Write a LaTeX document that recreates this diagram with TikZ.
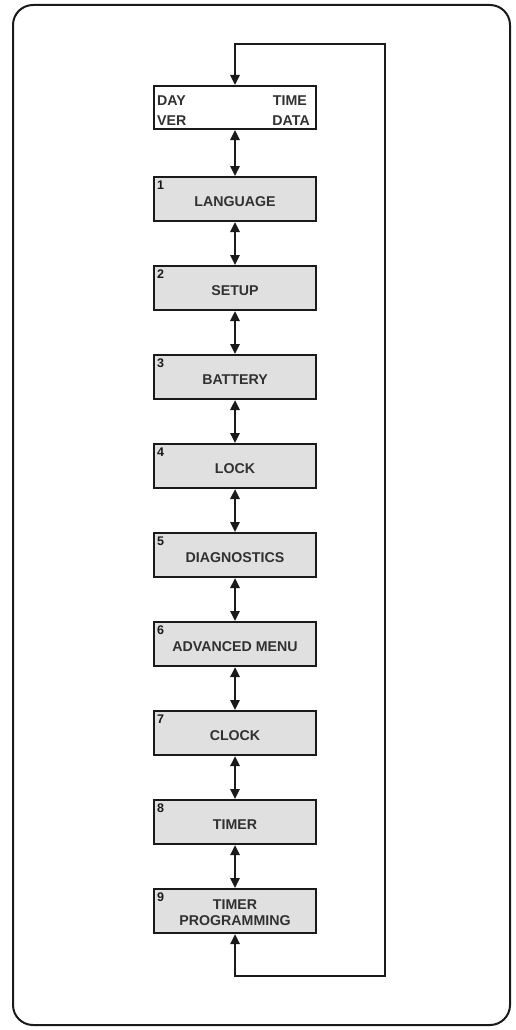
\documentclass[tikz,border=0pt]{standalone}
\usepackage{fontspec}
\setmainfont{Liberation Sans}
\usetikzlibrary{arrows.meta}
\definecolor{boxgray}{HTML}{E0E0E0}
\definecolor{ink}{HTML}{1A1A1A}
\tikzset{
  menubox/.style={draw=ink, line width=2pt, fill=boxgray, minimum width=162pt, minimum height=44pt, inner sep=0pt},
  topbox/.style={draw=ink, line width=2pt, fill=white, minimum width=162pt, minimum height=43pt, inner sep=0pt},
  lbl/.style={font=\bfseries\fontsize{14.2}{15}\selectfont, text=ink!90, inner sep=0pt, align=center},
  num/.style={font=\bfseries\fontsize{12.5}{13}\selectfont, text=ink, inner sep=0pt, anchor=north west},
  link/.style={line width=2.4pt, draw=ink, {Triangle[length=10pt,width=9pt]}-{Triangle[length=10pt,width=9pt]}},
  frame/.style={draw=ink, line width=2pt, rounded corners=20pt}
}
\begin{document}
\begin{tikzpicture}[x=1pt,y=-1pt]
\useasboundingbox (0,0) rectangle (515,1030);
\draw[frame] (13,5) rectangle (510,1025);
% top display box
\node[topbox] (b0) at (235,107.5) {};
\node[lbl, anchor=base west] (d1) at (157,106) {DAY};
\node[lbl, anchor=base west] (d2) at (157,125.5) {VER};
\node[lbl, anchor=base east] (d3) at (307,106) {TIME};
\node[lbl, anchor=base east] (d4) at (310,125.5) {DATA};
% menu boxes
\foreach \i/\t in {1/LANGUAGE,2/SETUP,3/BATTERY,4/LOCK,5/DIAGNOSTICS,6/ADVANCED MENU,7/CLOCK,8/TIMER}{
  \node[menubox] (b\i) at (235,{177+89*(\i-1)+22}) {};
  \node[num] (n\i) at ([xshift=4pt,yshift=-5pt]b\i.north west) {\i};
  \node[lbl] (t\i) at ([yshift=-3pt]b\i.center) {\t};
}
\node[menubox] (b9) at (235,911) {};
\node[num] (n9) at ([xshift=4pt,yshift=-5pt]b9.north west) {9};
\node[lbl] (t9) at ([yshift=-1.5pt]b9.center) {TIMER\\[1pt]PROGRAMMING};
% connectors
\foreach \a/\b in {0/1,1/2,2/3,3/4,4/5,5/6,6/7,7/8,8/9}{
  \draw[link] (b\a.south) -- (b\b.north);
}
\coordinate (ltop) at (385,44);
\coordinate (lbot) at (385,976);
\draw[link] (b0.north) |- (ltop) -- (lbot) -| (b9.south);
\end{tikzpicture}
\end{document}
